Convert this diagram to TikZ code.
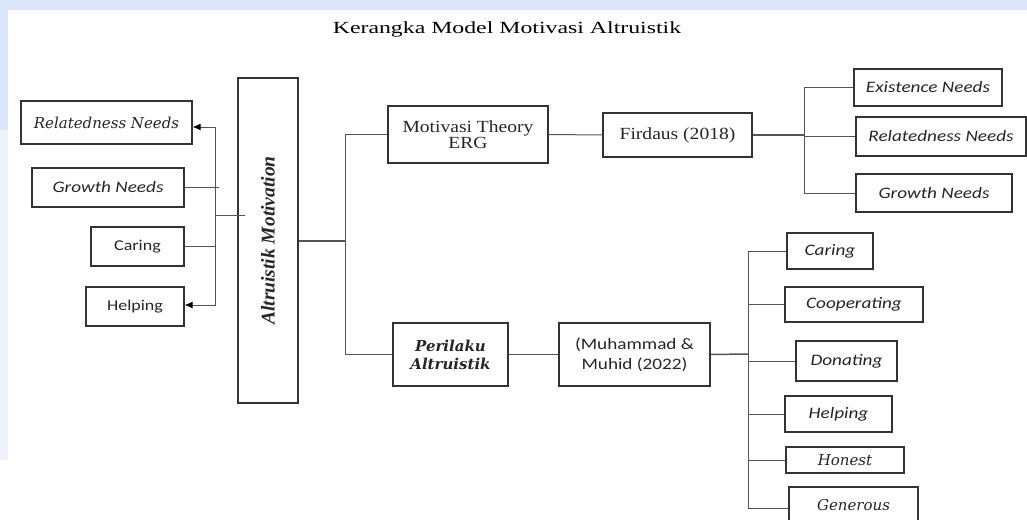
\documentclass[tikz,border=0pt]{standalone}
\usepackage{fontspec}
\setmainfont[FakeStretch=1.15]{Liberation Serif}
\newfontfamily\plainserif{Liberation Serif}
\newfontfamily\titlefont[FakeStretch=1.4]{Liberation Serif}
\newfontfamily\calfont[FakeStretch=1.2]{Carlito}
\newfontfamily\bookfont{DejaVu Serif}
\usetikzlibrary{arrows.meta}
\definecolor{boxline}{HTML}{333333}
\definecolor{conline}{HTML}{555555}
\definecolor{wash}{HTML}{DCE6FA}
\definecolor{washlight}{HTML}{EEF3FD}
\tikzset{
  box/.style={draw=boxline, line width=1.1pt, fill=white, inner sep=0pt, align=center, text=black!85},
  serifbox/.style={box, font=\fontsize{17}{16.5}\selectfont},
  calbox/.style={box, font=\calfont\fontsize{15}{17}\selectfont},
  calitbox/.style={box, font=\calfont\itshape\fontsize{16}{18}\selectfont},
  bookitbox/.style={box, font=\bookfont\itshape\fontsize{15}{17}\selectfont},
  con/.style={draw=conline, line width=1pt},
  arr/.style={con, -{Latex[length=8pt,width=7pt,color=black]}},
}
\begin{document}
\begin{tikzpicture}[x=1pt,y=-1pt]
\useasboundingbox (0,0) rectangle (1027,519);
\clip (0,0) rectangle (1027,519);
\fill[white] (0,0) rectangle (1027,519);
\fill[wash] (0,0) rectangle (1027,10);
\fill[washlight] (0,10) rectangle (8,460);
\fill[wash] (0,10) rectangle (8,130);
% title
\node (title) at (507,29) {\titlefont\fontsize{17}{19}\selectfont Kerangka Model Motivasi Altruistik};
% left column
\node[bookitbox, minimum width=171, minimum height=43] (relL) at (106.5,122.5) {Relatedness Needs};
\node[calitbox, minimum width=152, minimum height=39] (groL) at (108,187.5) {Growth Needs};
\node[calbox, minimum width=93, minimum height=39] (carL) at (137.5,246.5) {Caring};
\node[calbox, minimum width=98, minimum height=39] (helL) at (135,306.5) {Helping};
% main box
\node[box, minimum width=325, minimum height=60, rotate=90, font=\plainserif\bfseries\itshape\fontsize{19.5}{21}\selectfont] (main) at (268,240.5) {Altruistik Motivation};
% middle
\node[serifbox, minimum width=160, minimum height=57] (erg) at (468,134.5) {Motivasi Theory\\ ERG};
\node[serifbox, minimum width=149, minimum height=44] (fir) at (677.5,135) {Firdaus (2018)};
\node[box, minimum width=115, minimum height=63, font=\bookfont\bfseries\itshape\fontsize{15}{18}\selectfont] (per) at (450.5,354.5) {Perilaku\\ Altruistik};
\node[box, minimum width=151, minimum height=63, font=\calfont\fontsize{16}{20}\selectfont] (muh) at (634.5,354.5) {(Muhammad \&\\ Muhid (2022)};
% right top
\node[calitbox, minimum width=148, minimum height=37] (ex) at (928,87.5) {Existence Needs};
\node[calitbox, minimum width=170, minimum height=39] (relR) at (941,136.5) {Relatedness Needs};
\node[calitbox, minimum width=156, minimum height=38] (groR) at (934,193) {Growth Needs};
% right bottom
\node[calitbox, minimum width=86, minimum height=36] (carR) at (830,251) {Caring};
\node[calitbox, minimum width=138, minimum height=35] (coop) at (854,304.5) {Cooperating};
\node[calitbox, minimum width=101, minimum height=40] (don) at (846.5,361) {Donating};
\node[calitbox, minimum width=107, minimum height=36] (helR) at (838.5,414) {Helping};
\node[bookitbox, minimum width=118, minimum height=26] (hon) at (845,460) {Honest};
\node[bookitbox, minimum width=129, minimum height=43] (gen) at (853.5,508.5) {\raisebox{7pt}{Generous}};
% junctions
\coordinate (jL) at (215,215);
\coordinate (jLin) at (245,215);
\coordinate (jM) at (345,241);
\coordinate (jF) at (804,135);
\coordinate (jP) at (748,354);
% left connectors
\draw[con] (jL) -- (jLin);
\draw[arr] (jL) |- ([yshift=-4.5pt]relL.east);
\draw[arr] (jL) |- ([yshift=1.5pt]helL.east);
\draw[con] (groL.east) -- ++(34,0);
\draw[con] (carL.east) -- (carL.east -| jL);
% main to branches
\draw[con, line width=1.4pt] (main.south |- jM) -- (jM);
\draw[con] (jM) |- (erg.west);
\draw[con] (jM) |- (per.west);
\draw[con] (erg.east) -- (fir.west);
\draw[con] (per.east) -- (muh.west);
% Firdaus branches
\draw[con, line width=1.5pt] (fir.east) -- (jF);
\draw[con] (jF) |- (ex.west);
\draw[con] (jF) |- (relR.west);
\draw[con] (jF) |- (groR.west);
% Muhammad branches
\draw[con, line width=1.5pt] (muh.east) -- (jP);
\draw[con] (jP) |- (carR.west);
\draw[con] (jP) |- (coop.west);
\draw[con] (jP) |- (don.west);
\draw[con] (jP) |- (helR.west);
\draw[con] (jP) |- (hon.west);
\draw[con] (jP) |- (gen.west);
\end{tikzpicture}
\end{document}
